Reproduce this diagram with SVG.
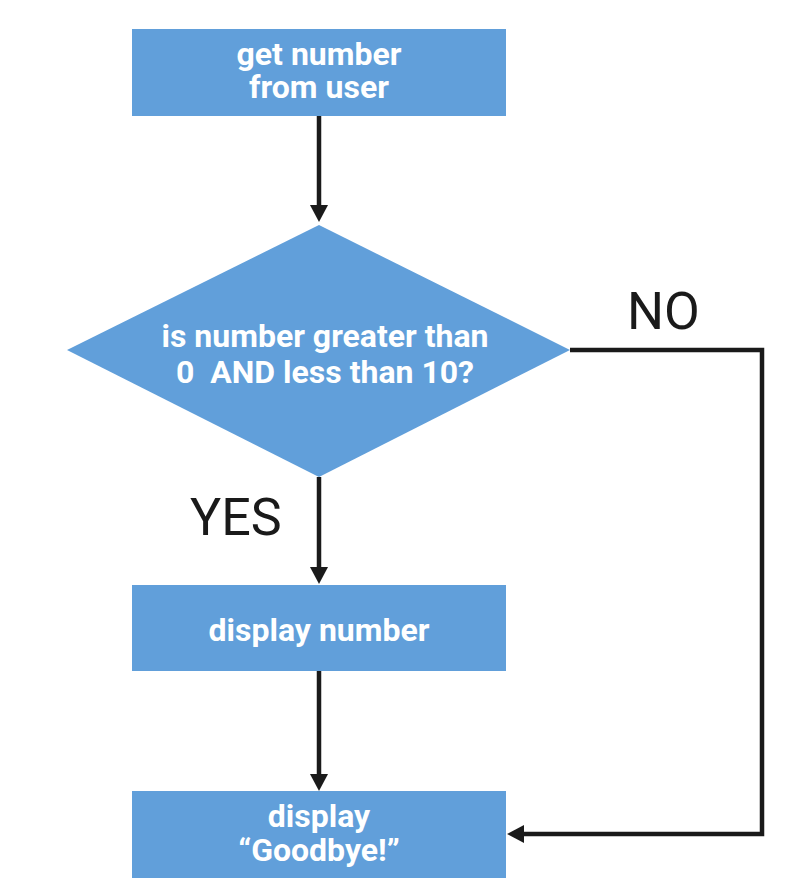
<svg xmlns="http://www.w3.org/2000/svg" width="787" height="884" viewBox="0 0 787 884">
  <style>
    .box { fill: #619fda; }
    .lbl { font-family: Roboto, "Liberation Sans", sans-serif; font-weight: bold; font-size: 32px; fill: #ffffff; text-anchor: middle; white-space: pre; }
    .side { font-family: Roboto, "Liberation Sans", sans-serif; font-size: 52px; fill: #1a1a1a; }
    .edge { fill: none; stroke: #1a1a1a; stroke-width: 4.5; stroke-linejoin: miter; }
  </style>
  <defs>
    <marker id="arrow" markerUnits="userSpaceOnUse" markerWidth="18" markerHeight="18" refX="7" refY="9" orient="auto">
      <path d="M0,0 L17,9 L0,18 Z" fill="#1a1a1a"/>
    </marker>
  </defs>
  <rect width="787" height="884" fill="#ffffff"/>

  <g id="connectors">
    <path class="edge" d="M319,116 L319,212" marker-end="url(#arrow)"/>
    <path class="edge" d="M319,477 L319,574" marker-end="url(#arrow)"/>
    <path class="edge" d="M319,671 L319,781" marker-end="url(#arrow)"/>
    <path class="edge" d="M570,350 L762,350 L762,834 L517,834" marker-end="url(#arrow)"/>
    <text class="side" x="190" y="535">YES</text>
    <text class="side" x="627" y="329">NO</text>
  </g>

  <g id="get-number">
    <rect class="box" x="132" y="29" width="374" height="87"/>
    <text class="lbl" x="319" y="65">get number</text>
    <text class="lbl" x="319" y="98">from user</text>
  </g>

  <g id="decision">
    <polygon class="box" points="319,225 570,350 319,477 67,350"/>
    <text class="lbl" x="325" y="347">is number greater than</text>
    <text class="lbl" x="325" y="383" xml:space="preserve">0  AND less than 10?</text>
  </g>

  <g id="display-number">
    <rect class="box" x="132" y="585" width="374" height="86"/>
    <text class="lbl" x="319" y="641">display number</text>
  </g>

  <g id="display-goodbye">
    <rect class="box" x="132" y="791" width="374" height="87"/>
    <text class="lbl" x="319" y="827">display</text>
    <text class="lbl" x="319" y="861">“Goodbye!”</text>
  </g>
</svg>
